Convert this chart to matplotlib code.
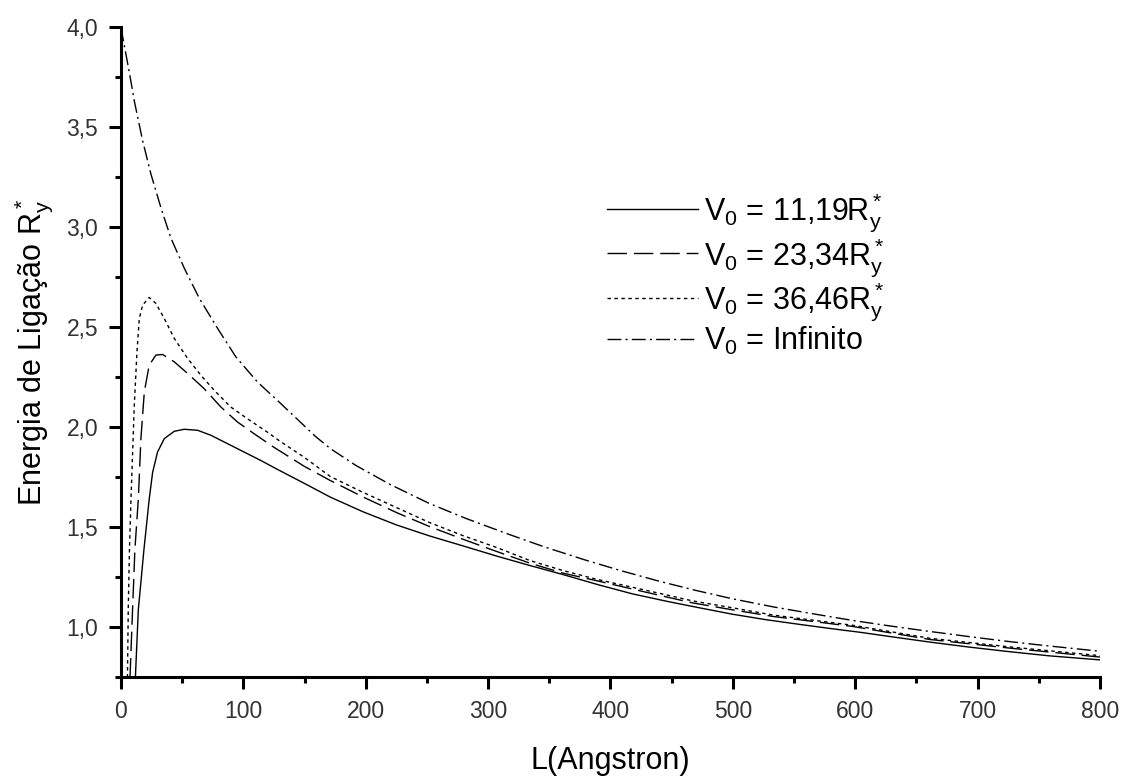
import matplotlib
matplotlib.use("Agg")
import matplotlib.pyplot as plt
from matplotlib.ticker import MultipleLocator, FuncFormatter

plt.rcParams.update({"font.family": "Liberation Sans",
                     "mathtext.fontset": "custom",
                     "mathtext.rm": "Liberation Sans",
                     "mathtext.it": "Liberation Sans",
                     "mathtext.bf": "Liberation Sans"})

# V0 = 11,19 Ry*
L_v1 = [11.8, 14.2, 18.8, 23.1, 25.9, 29.9, 35.4, 43.6, 51.7, 62.6, 73.5, 87.1, 100.7, 114.3,
        128, 150, 171, 198, 225, 252, 280, 307, 334, 361, 391, 418, 446, 473, 500, 527, 555,
        582, 604, 628, 661, 693, 726, 759, 800]
E_v1 = [0.75, 1.089, 1.39, 1.642, 1.776, 1.877, 1.944, 1.981, 1.991, 1.986, 1.961, 1.919,
        1.877, 1.835, 1.79, 1.72, 1.652, 1.578, 1.513, 1.458, 1.407, 1.357, 1.31, 1.265, 1.212,
        1.168, 1.131, 1.098, 1.066, 1.039, 1.015, 0.993, 0.976, 0.955, 0.927, 0.902, 0.879,
        0.858, 0.838]

# V0 = 23,34 Ry*
L_v2 = [7.4, 9.5, 11.4, 14.2, 16.3, 19.1, 23.1, 28.6, 34, 43.6, 54.5, 68, 81.7, 95.3, 109,
        125, 150, 171, 198, 225, 252, 280, 307, 334, 361, 390, 437, 467, 500, 533, 566, 598,
        661, 726, 800]
E_v2 = [0.75, 1.09, 1.39, 1.642, 1.943, 2.178, 2.312, 2.362, 2.365, 2.328, 2.27, 2.194, 2.102,
        2.027, 1.968, 1.901, 1.805, 1.735, 1.652, 1.575, 1.505, 1.44, 1.38, 1.322, 1.272, 1.232,
        1.165, 1.123, 1.088, 1.055, 1.03, 1.005, 0.94, 0.897, 0.852]

# V0 = 36,46 Ry*
L_v3 = [5.3, 6.0, 7.0, 8.2, 10.9, 13.1, 15, 17.7, 23.1, 28.6, 35.4, 43.6, 54.5, 65.3, 76.2,
        89.8, 103.5, 119.8, 129.3, 150, 171, 198, 225, 252, 280, 307, 334, 361, 388, 437, 467,
        500, 533, 566, 598, 661, 726, 800]
E_v3 = [0.75, 1.1, 1.4, 1.642, 2.11, 2.378, 2.545, 2.612, 2.65, 2.62, 2.545, 2.445, 2.345,
        2.261, 2.186, 2.102, 2.043, 1.976, 1.934, 1.85, 1.755, 1.675, 1.60, 1.525, 1.458, 1.40,
        1.335, 1.285, 1.242, 1.175, 1.133, 1.098, 1.062, 1.036, 1.011, 0.946, 0.903, 0.859]

# V0 = Infinito
L_inf = [0, 7, 11, 17.7, 24.5, 32.7, 40.8, 51.7, 64, 79, 93.9, 111.6, 129.3, 159, 171, 192,
         220, 252, 282, 315, 345, 378, 408, 440, 470, 500, 533, 565, 598, 628, 661, 691, 721,
         753, 786, 800]
E_inf = [4.0, 3.77, 3.63, 3.434, 3.267, 3.098, 2.947, 2.797, 2.646, 2.495, 2.353, 2.227, 2.127,
         1.955, 1.895, 1.81, 1.715, 1.62, 1.545, 1.47, 1.405, 1.34, 1.285, 1.231, 1.185, 1.143,
         1.103, 1.069, 1.035, 1.008, 0.98, 0.956, 0.933, 0.911, 0.89, 0.881]

labels = [r"V$_0$ = 11,19R$_y^*$", r"V$_0$ = 23,34R$_y^*$",
          r"V$_0$ = 36,46R$_y^*$", r"V$_0$ = Infinito"]

fig = plt.figure(figsize=(11.23, 7.78), dpi=100)
ax = fig.add_axes([0.1077, 0.1292, 0.8718, 0.8355])

lw = 1.0
ax.plot(L_v1, E_v1, color="black", lw=lw, ls="-", label=labels[0])
ax.plot(L_v2, E_v2, color="black", lw=lw, ls=(0, (14, 5)), label=labels[1])
ax.plot(L_v3, E_v3, color="black", lw=lw, ls=(0, (2.5, 2.5)), label=labels[2])
ax.plot(L_inf, E_inf, color="black", lw=lw, ls=(0, (10, 3, 1.5, 3)), label=labels[3])

ax.set_xlim(0, 800)
ax.set_ylim(0.75, 4.0)
ax.xaxis.set_major_locator(MultipleLocator(100))
ax.xaxis.set_minor_locator(MultipleLocator(50))
ax.yaxis.set_major_locator(MultipleLocator(0.5))
ax.yaxis.set_minor_locator(MultipleLocator(0.25))
ax.yaxis.set_major_formatter(FuncFormatter(lambda v, p: f"{v:.1f}".replace(".", ",")))

for s in ["top", "right"]:
    ax.spines[s].set_visible(False)
for s in ["left", "bottom"]:
    ax.spines[s].set_linewidth(2.2)
ax.tick_params(which="major", direction="out", length=8.5, width=2.2,
               labelsize=16.5, labelcolor="#333333", pad=8)
ax.tick_params(which="minor", direction="out", length=4.5, width=2.2)

ax.set_xlabel("L(Angstron)", fontsize=22, labelpad=16)
ax.set_ylabel(r"Energia de Ligação R$_y^*$", fontsize=22, labelpad=8)

ax.legend(loc="upper left", bbox_to_anchor=(0.496, 0.748), frameon=False,
          fontsize=22, handlelength=3.0, handletextpad=0.2, labelspacing=0.05,
          borderaxespad=0, borderpad=0)

fig.savefig("out.png", dpi=100)
